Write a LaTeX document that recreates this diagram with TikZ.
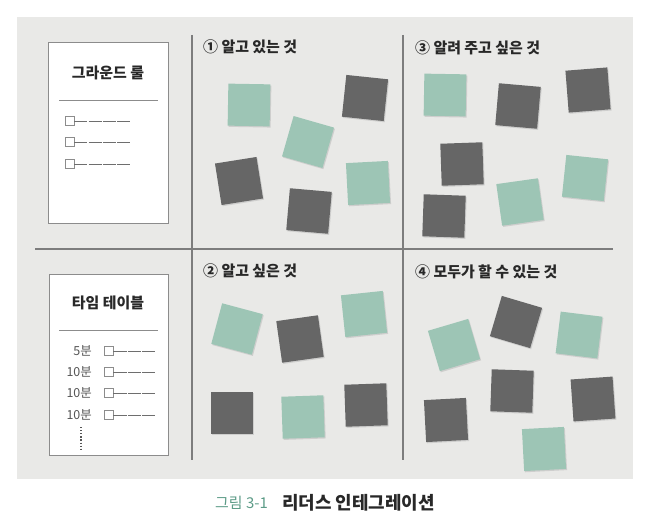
\documentclass[tikz,border=0pt]{standalone}
\usepackage{fontspec}
\setmainfont{Noto Sans CJK KR}
\usetikzlibrary{shadows}
\definecolor{bggray}{RGB}{233,233,231}
\definecolor{linegray}{RGB}{125,125,125}
\definecolor{boxgray}{RGB}{140,140,140}
\definecolor{dashgray}{RGB}{110,110,110}
\definecolor{chipMint}{RGB}{157,197,181}
\definecolor{chipDark}{RGB}{102,102,102}
\definecolor{capgreen}{RGB}{92,155,135}
\definecolor{textdark}{RGB}{40,40,40}
\definecolor{textmid}{RGB}{85,85,85}
\tikzset{
  chip/.style={minimum size=42bp, inner sep=0pt,
    drop shadow={shadow xshift=1bp, shadow yshift=-1.2bp, opacity=0.25}},
  mintsq/.style={chip, fill=chipMint},
  darksq/.style={chip, fill=chipDark},
  divider/.style={draw=linegray, line width=1.1bp},
  card/.style={draw=boxgray, line width=0.9bp, fill=white, inner sep=0pt},
  cardtitle/.style={font=\bfseries\fontsize{15}{17}\selectfont, text=textdark, inner sep=0pt},
  paneltitle/.style={anchor=west, font=\bfseries\fontsize{15}{17}\selectfont, text=textdark, inner sep=0pt},
  rule/.style={draw=boxgray, line width=0.8bp},
  cbox/.style={draw=boxgray, line width=0.7bp, minimum size=9bp, inner sep=0pt},
  dashline/.style={draw=dashgray, line width=0.9bp},
  rowtext/.style={anchor=east, font=\fontsize{12.5}{14}\selectfont, text=textmid, inner sep=0pt},
}
\begin{document}
\begin{tikzpicture}[x=1bp, y=-1bp]
\useasboundingbox (0,0) rectangle (656,522);
\fill[bggray] (17,17) rectangle (633,479);

% dividers
\coordinate (v1t) at (192,35); \coordinate (v1b) at (192,460);
\coordinate (v2t) at (403,35); \coordinate (v2b) at (403,460);
\coordinate (hl) at (35,249); \coordinate (hr) at (613,249);
\draw[divider] (v1t) -- (v1b);
\draw[divider] (v2t) -- (v2b);
\draw[divider] (hl) -- (hr);

% card 1
\node[card, minimum width=120bp, minimum height=181bp] (card1) at (108,132.5) {};
\node[cardtitle] (t1) at (108,73) {그라운드 룰};
\coordinate (r1a) at (59,100); \coordinate (r1b) at (158,100);
\draw[rule] (r1a) -- (r1b);
\foreach \i/\y in {1/121,2/142,3/164}{
  \node[cbox] (cb\i) at (69.5,\y) {};
  \coordinate (ce\i) at (130,\y);
  \draw[dashline, dash pattern=on 13bp off 1.3bp] (cb\i.east) -- (ce\i);
}

% card 2
\node[card, minimum width=119bp, minimum height=181bp] (card2) at (108.5,364.5) {};
\node[cardtitle] (t2) at (108,303) {타임 테이블};
\coordinate (r2a) at (59,330); \coordinate (r2b) at (158,330);
\draw[rule] (r2a) -- (r2b);
\foreach \i/\y/\t in {1/351/5분,2/372/10분,3/393/10분,4/415/10분}{
  \node[rowtext] (rt\i) at (92,\y) {\t};
  \node[cbox] (tb\i) at (108.5,\y) {};
  \coordinate (te\i) at (155,\y);
  \draw[dashline, dash pattern=on 13.3bp off 1.2bp] (tb\i.east) -- (te\i);
}
\coordinate (dt) at (81,427); \coordinate (db) at (81,451);
\draw[draw=textmid, line width=1.3bp, dash pattern=on 1.2bp off 1.9bp] (dt) -- (db);

% panel titles
\node[paneltitle] (p1) at (203,47) {① 알고 있는 것};
\node[paneltitle] (p3) at (415,48) {③ 알려 주고 싶은 것};
\node[paneltitle] (p2) at (203,271) {② 알고 싶은 것};
\node[paneltitle] (p4) at (415,272) {④ 모두가 할 수 있는 것};

% panel 1 chips
\node[mintsq, rotate=-1] (a1) at (249,105) {};
\node[darksq, rotate=-6] (a2) at (365,98) {};
\node[mintsq, rotate=-16] (a3) at (308,142) {};
\node[darksq, rotate=9] (a4) at (239,181) {};
\node[darksq, rotate=-5] (a5) at (309,211) {};
\node[mintsq, rotate=3] (a6) at (368,183) {};

% panel 3 chips
\node[mintsq, rotate=-1] (c1) at (445,95) {};
\node[darksq, rotate=-5] (c2) at (518,106) {};
\node[darksq, rotate=4.5] (c3) at (588,90) {};
\node[darksq, rotate=2] (c4) at (462,164) {};
\node[darksq, rotate=-2] (c5) at (444,216) {};
\node[mintsq, rotate=8] (c6) at (520,202) {};
\node[mintsq, rotate=-6] (c7) at (585,178) {};

% panel 2 chips
\node[mintsq, rotate=-15] (b1) at (237,329) {};
\node[darksq, rotate=8] (b2) at (300,339) {};
\node[mintsq, rotate=6] (b3) at (364,314) {};
\node[darksq, rotate=0] (b4) at (232,413) {};
\node[mintsq, rotate=2] (b5) at (303,417) {};
\node[darksq, rotate=2] (b6) at (366,405) {};

% panel 4 chips
\node[mintsq, rotate=16.5] (d1) at (454,345) {};
\node[darksq, rotate=-16.5] (d2) at (516,322) {};
\node[mintsq, rotate=-7] (d3) at (579,335) {};
\node[darksq, rotate=-2] (d4) at (512,391) {};
\node[darksq, rotate=4] (d5) at (593,399) {};
\node[darksq, rotate=3] (d6) at (446,420) {};
\node[mintsq, rotate=3] (d7) at (544,449) {};

% caption
\node[anchor=west, inner sep=0pt, text=capgreen, font=\fontsize{15}{17}\selectfont] (cap1) at (215,503) {그림 3-1};
\node[anchor=west, inner sep=0pt, text=textdark, font=\bfseries\fontsize{18}{20}\selectfont] (cap2) at (282,503) {리더스 인테그레이션};
\end{tikzpicture}
\end{document}
